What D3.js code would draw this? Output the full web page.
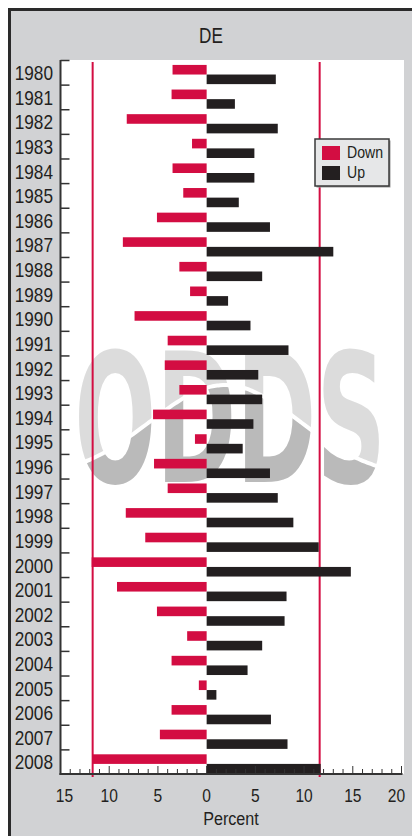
<!DOCTYPE html>
<html>
<head>
<meta charset="utf-8">
<script src="https://cdn.jsdelivr.net/npm/d3@7"></script>
<style>
  html, body { margin: 0; padding: 0; background: #ffffff; }
  svg { display: block; }
  text { font-family: "Liberation Sans", Arial, sans-serif; fill: #231f20; }
</style>
</head>
<body>
<svg id="chart" width="412" height="836"></svg>
<script>
// ---- data ----
const title = "DE";
const years = [1980,1981,1982,1983,1984,1985,1986,1987,1988,1989,1990,1991,1992,1993,1994,1995,1996,1997,1998,1999,2000,2001,2002,2003,2004,2005,2006,2007,2008];
const down = [3.5,3.6,8.2,1.5,3.5,2.4,5.1,8.6,2.8,1.7,7.4,4.0,4.3,2.8,5.5,1.2,5.4,4.0,8.3,6.3,11.8,9.2,5.1,2.0,3.6,0.8,3.6,4.8,11.7];
const up   = [7.1,2.9,7.3,4.9,4.9,3.3,6.5,13.0,5.7,2.2,4.5,8.4,5.3,5.7,4.8,3.7,6.5,7.3,8.9,11.5,14.8,8.2,8.0,5.7,4.2,1.0,6.6,8.3,11.7];
const thresholds = [-11.7, 11.6];
const xTicks = [-15,-10,-5,0,5,10,15,20];
const xTickLabels = ["15","10","5","0","5","10","15","20"];
const seriesNames = ["Down","Up"];
const xLabel = "Percent";
const watermark = "ODDS";

// ---- layout ----
const W = 412, H = 836;
const RED = "#d30d42", BLACK = "#231f20", BG = "#d1d2d4";
const NARROW = 0.82;
const svg = d3.select("#chart");

// condensed text helper: position via transform, squeeze horizontally
function narrow(sel, tx, ty, sx = NARROW) {
  return sel.attr("transform", (d, i) => {
    const xx = typeof tx === "function" ? tx(d, i) : tx;
    const yy = typeof ty === "function" ? ty(d, i) : ty;
    return `translate(${xx},${yy}) scale(${sx},1)`;
  });
}

// frame
svg.append("rect").attr("x", 8).attr("y", 8).attr("width", W - 8).attr("height", H - 8).attr("fill", BG);
svg.append("line").attr("x1", 9.5).attr("x2", 9.5).attr("y1", 8).attr("y2", H).attr("stroke", "#2a2a2a").attr("stroke-width", 3);
svg.append("line").attr("x1", 8).attr("x2", W).attr("y1", 9.5).attr("y2", 9.5).attr("stroke", "#2a2a2a").attr("stroke-width", 3);

const plot = { left: 60.5, right: 401.5, top: 60, bottom: 774 };
const x = d3.scaleLinear().domain([-15, 20]).range([plot.left, plot.right]);
const y = d3.scaleBand().domain(years).range([plot.top, plot.bottom]).padding(0);
const bw = y.bandwidth();

// plot background
svg.append("rect").attr("x", plot.left).attr("y", plot.top)
  .attr("width", 404 - plot.left).attr("height", plot.bottom - plot.top).attr("fill", "#ffffff");

// title
svg.append("text").attr("text-anchor", "middle").attr("font-size", 22)
  .call(narrow, 211, 43, 0.78).text(title);

// watermark (two-tone fill via pattern, white bell curve on top)
const wm = svg.append("g");
const wmX0 = x(-13.6), wmX1 = x(18.4), wmBase = 482;
const defs = svg.append("defs");
const gauss = xx => 478 - 93 * Math.exp(-Math.pow(xx - 225, 2) / (2 * 75 * 75));
const curvePts = d3.range(wmX0 - 4, wmX1 + 6, 3).map(xx => [xx, gauss(xx)]);
const pat = defs.append("pattern").attr("id", "wmfill").attr("patternUnits", "userSpaceOnUse")
  .attr("x", 0).attr("y", 0).attr("width", W).attr("height", H);
pat.append("rect").attr("width", W).attr("height", H).attr("fill", "#dcdcdc");
pat.append("path")
  .attr("d", d3.line()(curvePts.concat([[wmX1 + 6, 560], [wmX0 - 4, 560]])) + "Z")
  .attr("fill", "#bababa");
const wmText = wm.append("text").attr("x", 0).attr("y", 0)
  .attr("font-size", 180).attr("font-weight", "bold")
  .style("font-family", "'DejaVu Sans', sans-serif")
  .text(watermark);
const natW = wmText.node().getComputedTextLength();
const sxWm = (wmX1 - wmX0) / natW;
wmText.attr("transform", `translate(${wmX0},${wmBase}) scale(${sxWm},1)`)
  .style("fill", "url(#wmfill)");
// pattern in user space of the transformed text: apply inverse transform to pattern
pat.attr("patternTransform", `scale(${1 / sxWm},1) translate(${-wmX0},${-wmBase})`);
wm.append("path").attr("d", d3.line().curve(d3.curveBasis)(curvePts.filter(p => p[0] >= wmX0 && p[0] <= wmX1)))
  .attr("fill", "none").attr("stroke", "#ffffff").attr("stroke-width", 4);

// threshold lines
svg.append("g").selectAll("line").data(thresholds).join("line")
  .attr("x1", d => x(d)).attr("x2", d => x(d))
  .attr("y1", plot.top + 2).attr("y2", plot.bottom + 3)
  .attr("stroke", RED).attr("stroke-width", 2);

// bars
svg.append("g").selectAll("rect").data(years).join("rect")
  .attr("x", (d, i) => x(-down[i])).attr("width", (d, i) => x(0) - x(-down[i]))
  .attr("y", d => y(d) + bw * 0.2).attr("height", bw * 0.39).attr("fill", RED);
svg.append("g").selectAll("rect").data(years).join("rect")
  .attr("x", x(0)).attr("width", (d, i) => x(up[i]) - x(0))
  .attr("y", d => y(d) + bw * 0.59).attr("height", bw * 0.39).attr("fill", BLACK);

// y axis
const yAxisG = svg.append("g");
yAxisG.append("line").attr("x1", plot.left).attr("x2", plot.left)
  .attr("y1", plot.top).attr("y2", plot.bottom + 1).attr("stroke", "#333").attr("stroke-width", 2);
yAxisG.selectAll("line.t").data(years).join("line").attr("class", "t")
  .attr("x1", plot.left).attr("x2", plot.left + 9)
  .attr("y1", d => y(d) + 0.5).attr("y2", d => y(d) + 0.5)
  .attr("stroke", "#333").attr("stroke-width", 1.5);
yAxisG.selectAll("text").data(years).join("text")
  .attr("text-anchor", "end").attr("font-size", 21)
  .call(narrow, 53, d => y(d) + bw / 2 + 7.8)
  .text(d => d);

// x axis
const xAxisG = svg.append("g");
xAxisG.append("line").attr("x1", plot.left - 1).attr("x2", plot.right + 1)
  .attr("y1", plot.bottom).attr("y2", plot.bottom).attr("stroke", "#333").attr("stroke-width", 2);
const minor = d3.range(-15, 21, 1);
xAxisG.selectAll("line.t").data(minor).join("line").attr("class", "t")
  .attr("x1", d => x(d)).attr("x2", d => x(d))
  .attr("y1", plot.bottom).attr("y2", d => plot.bottom - (d % 5 === 0 ? 8 : 5))
  .attr("stroke", "#333").attr("stroke-width", 1);
xAxisG.selectAll("text").data(xTicks).join("text")
  .attr("text-anchor", "middle").attr("font-size", 19)
  .call(narrow, (d, i) => x(d) + (i === 0 ? 4 : (i === xTicks.length - 1 ? -5 : 0)), 802)
  .text((d, i) => xTickLabels[i]);
svg.append("text").attr("text-anchor", "middle").attr("font-size", 19)
  .call(narrow, (plot.left + plot.right) / 2, 825, 0.85).text(xLabel);

// legend
const lg = svg.append("g").attr("transform", "translate(315,139)");
lg.append("rect").attr("x", 1.5).attr("y", 1.5).attr("width", 74).attr("height", 47).attr("fill", "#9a9a9a");
lg.append("rect").attr("width", 74).attr("height", 47).attr("fill", "#e6e7e8")
  .attr("stroke", "#3a3a3a").attr("stroke-width", 1.5);
const lcol = [RED, BLACK];
lg.selectAll("rect.sw").data(seriesNames).join("rect").attr("class", "sw")
  .attr("x", 7).attr("y", (d, i) => 7 + i * 20).attr("width", 18).attr("height", 14)
  .attr("fill", (d, i) => lcol[i]);
lg.selectAll("text").data(seriesNames).join("text")
  .attr("font-size", 16)
  .call(narrow, 32, (d, i) => 19 + i * 20, 0.88)
  .text(d => d);
</script>
</body>
</html>
